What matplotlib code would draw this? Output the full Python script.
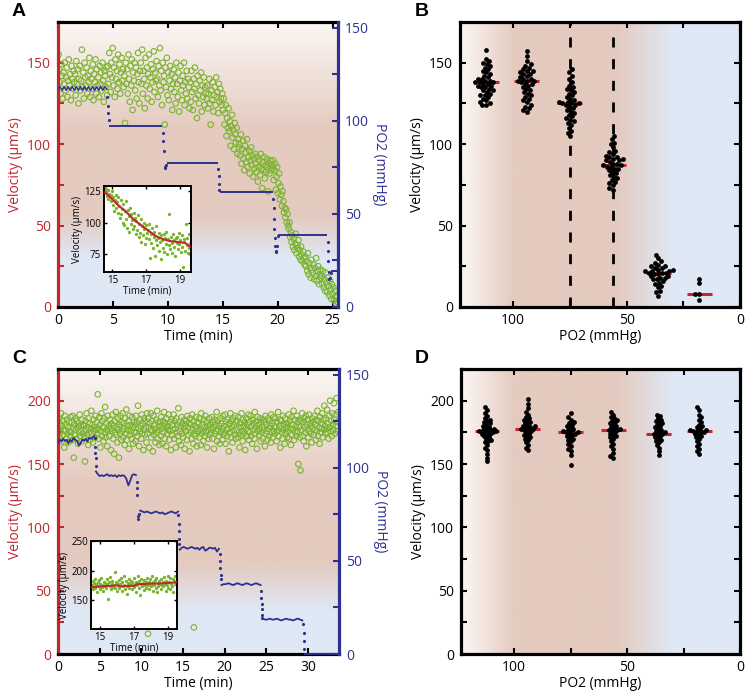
import numpy as np
import matplotlib.pyplot as plt
from matplotlib.colors import LinearSegmentedColormap
from matplotlib.ticker import MultipleLocator

plt.rcParams['font.family'] = ['Open Sans', 'DejaVu Sans']
plt.rcParams['font.size'] = 10

RED = '#c1272d'
NAVY = '#2e3192'
GREEN = '#7ab42f'
BG_WHITE = '#fbf7f4'
BG_PINK = '#e4cabf'
BG_BLUE = '#dfe8f5'

# ---- Panel A: velocity over time (hypoxia steps) ----
vel_a = [
    155, 146, 138, 131, 149, 142, 128, 144, 137, 150, 133, 141, 147, 129, 139, 152, 136, 143, 127, 148, 140, 134, 145, 138,
    143, 130, 151, 137, 146, 125, 140, 148, 133, 139, 158, 135, 144, 128, 150, 141, 136, 147, 131, 142, 138, 153, 129, 145,
    140, 134, 149, 127, 143, 138, 152, 131, 146, 136, 141, 129, 148, 137, 144, 133, 150, 139, 126, 145, 142, 135, 147, 130,
    148, 137, 156, 143, 132, 150, 141, 159, 136, 147, 129, 152, 140, 145, 134, 155, 138, 149, 131, 144, 153, 139, 146, 135,
    142, 113, 150, 137, 146, 131, 155, 140, 126, 148, 136, 152, 121, 144, 139, 150, 133, 147, 128, 143, 156, 138, 125, 145,
    150, 137, 158, 131, 145, 140, 122, 153, 136, 147, 128, 143, 155, 134, 141, 149, 126, 138, 146, 157, 132, 144, 139, 151,
    140, 129, 148, 136, 159, 133, 145, 124, 150, 138, 142, 112, 147, 135, 153, 130, 144, 127, 139, 148, 134, 143, 121, 137,
    146, 132, 141, 125, 150, 137, 129, 144, 120, 139, 148, 133, 127, 142, 136, 150, 124, 138, 131, 145, 128, 140, 135, 122,
    138, 126, 145, 132, 121, 140, 134, 147, 128, 137, 116, 142, 130, 125, 139, 133, 144, 120, 136, 129, 141, 124, 135, 131,
    128, 136, 122, 131, 140, 125, 112, 133, 127, 138, 120, 130, 135, 124, 141, 129, 132, 119, 137, 126, 134, 128, 124, 131,
    121, 128, 112, 119, 124, 105, 116, 110, 122, 108, 114, 99, 111, 118, 104, 109, 97, 113, 106, 101, 110, 94, 103, 98,
    100, 93, 106, 88, 97, 102, 91, 84, 99, 95, 89, 103, 86, 92, 96, 82, 90, 98, 87, 93, 80, 91, 85, 94,
    88, 83, 92, 77, 86, 90, 81, 94, 85, 73, 89, 84, 92, 79, 87, 83, 91, 86, 71, 88, 82, 90, 84, 87,
    85, 90, 78, 84, 88, 72, 80, 86, 70, 76, 82, 66, 74, 69, 62, 71, 65, 58, 61, 55, 60, 52, 57, 50,
    48, 52, 43, 46, 40, 44, 37, 42, 35, 39, 45, 33, 38, 36, 41, 31, 35, 29, 37, 32, 28, 34, 30, 26,
    31, 25, 28, 22, 33, 20, 27, 24, 18, 29, 23, 21, 26, 17, 24, 19, 30, 16, 22, 25, 14, 20, 23, 18,
    19, 14, 22, 12, 17, 10, 21, 15, 9, 18, 13, 7, 16, 11, 5, 14, 8, 12, 4, 10, 6, 2, 7, 3,
]
time_a_range = (0.05, 25.45)

po2_a_first = [117, 118.3, 116.3, 118.3, 116.3, 118.3, 116.3, 118.3, 116.3, 118.3, 116.3, 118.3, 116.3,
               118.3, 116.3, 118.3, 116.3, 118.3, 116.3, 118.3, 116.3, 118.3, 116.3, 118.3, 117]
po2_a_first_range = (0.0, 4.45)
po2_a_lev_start = [4.65, 9.9, 14.75, 20.05, 24.9]
po2_a_lev_end = [9.5, 14.55, 19.6, 24.5, 25.45]
po2_a_lev_val = [97, 77.3, 62, 38.5, 19.5]
po2_a_tr_t = [4.5, 4.53, 4.56, 4.6, 9.55, 9.6, 9.65, 9.72, 9.78, 9.84, 14.6, 14.63, 14.66, 14.7,
              19.62, 19.65, 19.68, 19.71, 19.74, 19.78, 19.82, 19.88, 19.95, 20.0,
              24.55, 24.58, 24.61, 24.64, 24.68, 24.75, 24.82]
po2_a_tr_v = [113, 108, 104, 100.5, 93.5, 89, 84, 75, 74.5, 76, 74, 70.5, 66, 63,
              58, 53, 47.5, 42, 37, 33, 30, 29.5, 33, 38,
              35, 30, 24.5, 19, 15, 15.5, 18]

inset_a_vel = [
    128, 124, 127, 121, 126, 119, 123, 130, 117, 122, 125, 114, 120, 109, 118, 122, 112, 116, 120, 108,
    113, 104, 118, 107, 111, 100, 115, 98, 109, 117, 103, 96, 110, 105, 93, 112, 99, 107, 102, 95,
    108, 97, 104, 91, 101, 94, 106, 89, 99, 92, 103, 85, 97, 90, 100, 95, 83, 98, 88, 92,
    94, 87, 99, 72, 91, 84, 96, 80, 89, 93, 74, 86, 97, 82, 88, 78, 92, 85, 71, 90,
    86, 80, 91, 77, 88, 83, 93, 75, 87, 82, 107, 79, 89, 84, 76, 91, 81, 86, 74, 88,
    84, 89, 79, 92, 83, 86, 77, 90, 81, 65, 87, 85, 78, 99, 82, 88, 76, 91, 80, 84,
]
inset_a_range = (14.55, 19.6)
inset_a_fit_t = [14.55, 14.8, 15.1, 15.4, 15.7, 16.0, 16.3, 16.6, 16.9, 17.2, 17.5, 17.8, 18.1, 18.4, 18.7, 19.0, 19.3, 19.6]
inset_a_fit_v = [124, 121, 117, 113, 110, 106, 102, 99, 96, 93, 90, 88, 86.5, 85.5, 85, 84.5, 84, 81]

# ---- Panel C: control, velocity over time ----
vel_c = [
    178, 186, 171, 182, 175, 190, 168, 180, 184, 173, 177, 163, 188, 176, 181, 170, 185, 174, 179, 167, 183, 176, 172, 187,
    175, 183, 169, 188, 178, 155, 181, 173, 186, 177, 170, 184, 179, 166, 182, 175, 189, 172, 180, 176, 168, 185, 174, 181,
    180, 171, 152, 184, 177, 190, 173, 179, 165, 186, 175, 182, 169, 178, 192, 174, 181, 167, 185, 176, 179, 171, 188, 177,
    183, 174, 205, 178, 170, 187, 181, 163, 176, 190, 172, 184, 179, 168, 186, 175, 195, 171, 182, 177, 164, 188, 176, 180,
    172, 185, 178, 161, 182, 176, 189, 170, 180, 158, 184, 175, 191, 173, 179, 167, 186, 177, 155, 181, 174, 188, 169, 183,
    176, 190, 171, 182, 178, 165, 186, 174, 193, 169, 180, 177, 184, 162, 188, 173, 181, 176, 170, 187, 179, 166, 183, 175,
    181, 168, 188, 175, 183, 172, 196, 178, 164, 185, 176, 180, 170, 189, 174, 182, 161, 186, 177, 173, 184, 179, 167, 190,
    174, 186, 179, 163, 182, 177, 190, 171, 184, 176, 160, 188, 173, 181, 178, 167, 185, 175, 192, 170, 183, 177, 165, 180,
    183, 172, 187, 178, 166, 184, 175, 191, 170, 182, 179, 164, 186, 174, 180, 177, 189, 169, 183, 176, 161, 185, 173, 181,
    177, 189, 170, 184, 178, 163, 186, 175, 181, 172, 194, 168, 183, 176, 180, 165, 187, 174, 182, 171, 178, 185, 162, 180,
    176, 184, 169, 188, 179, 173, 182, 160, 186, 175, 181, 170, 189, 177, 166, 184, 174, 180, 172, 187, 178, 164, 183, 176,
    182, 171, 186, 177, 165, 190, 174, 181, 176, 168, 185, 179, 172, 188, 175, 183, 163, 180, 177, 170, 186, 173, 181, 178,
    175, 187, 170, 183, 179, 162, 185, 174, 181, 176, 191, 168, 184, 177, 172, 180, 166, 186, 175, 182, 178, 169, 188, 173,
    180, 174, 189, 166, 183, 177, 172, 185, 178, 160, 182, 175, 190, 171, 184, 179, 167, 186, 176, 181, 173, 188, 170, 183,
    177, 184, 171, 187, 175, 163, 182, 179, 173, 190, 176, 168, 185, 180, 174, 183, 161, 178, 186, 172, 181, 176, 189, 169,
    183, 175, 188, 172, 180, 166, 185, 177, 182, 170, 191, 174, 179, 184, 162, 187, 176, 181, 173, 178, 186, 168, 183, 175,
    179, 170, 185, 177, 183, 164, 188, 174, 181, 176, 169, 186, 178, 172, 184, 180, 167, 189, 175, 182, 171, 187, 176, 180,
    174, 186, 179, 168, 183, 176, 191, 172, 180, 185, 163, 178, 184, 175, 170, 188, 177, 181, 166, 186, 174, 182, 179, 171,
    182, 176, 189, 170, 184, 178, 165, 187, 173, 181, 177, 192, 169, 185, 175, 180, 172, 188, 176, 183, 150, 179, 185, 171,
    145, 184, 177, 190, 172, 183, 168, 186, 179, 175, 188, 164, 181, 177, 185, 171, 189, 176, 182, 174, 180, 167, 186, 178,
    183, 173, 188, 177, 181, 169, 185, 176, 192, 172, 184, 179, 166, 187, 175, 182, 178, 190, 171, 185, 177, 196, 180, 174,
    186, 178, 193, 175, 182, 170, 188, 179, 200, 176, 184, 172, 190, 181, 177, 198, 185, 174, 189, 180, 202, 183, 176, 191,
]
time_c_range = (0.05, 33.6)
outlier_c_t = [10.8, 16.3]
outlier_c_v = [16, 21]

po2_c_segments = [
    (0.0, 4.35, [113.5, 115, 114, 115.5, 114.5, 115, 113, 115, 114, 116, 115, 114.5, 112, 113, 115, 114.5,
                 115.5, 114, 116, 115.5, 116, 117]),
    (4.55, 9.35, [98, 96.5, 95.5, 96, 95.5, 96, 96.5, 95.5, 96, 95.5, 96, 95, 96, 95.5, 96, 95.5, 94, 90.5,
                  93, 96, 96.5, 96]),
    (9.85, 14.4, [77, 76.5, 76, 76.5, 76, 75.5, 76, 76.5, 76, 75.5, 76, 75, 75.5, 76, 76.5, 76, 75.5, 76.5]),
    (14.6, 19.3, [56, 57, 57.5, 57, 56.5, 57, 57.5, 57, 56.5, 57, 56, 57, 57.5, 55.5, 56, 57, 57, 56.5, 57,
                  55, 56.5]),
    (19.6, 24.3, [37, 37.5, 37.5, 38, 37.5, 37, 37.5, 38, 37.5, 37, 37.5, 38, 37.5, 37, 37.5, 38, 37.5, 37]),
    (24.55, 29.3, [19, 18.5, 18.5, 19, 18.5, 18.5, 19, 18.5, 18, 18.5, 19, 18.5, 18.5, 18, 18.5, 19, 18.5, 18]),
    (29.6, 33.7, [0, 0]),
]
po2_c_tr_t = [4.4, 4.45, 4.47, 4.5, 4.52, 9.45, 9.48, 9.52, 9.58, 9.62, 9.7,
              14.45, 14.48, 14.5, 14.53, 14.56, 19.4, 19.43, 19.46, 19.5, 19.54,
              24.35, 24.38, 24.41, 24.44, 24.47, 24.5, 29.4, 29.45, 29.5, 29.55]
po2_c_tr_v = [116, 111, 108, 105, 101, 92.5, 89, 85.5, 74, 72.5, 75,
              74.5, 70, 66, 62, 59, 53.5, 50, 46, 42.5, 40,
              34, 30, 27, 24, 21, 19.5, 16, 11.5, 7, 2.5]

inset_c_vel = [
    175, 182, 168, 179, 186, 171, 177, 163, 180, 174, 184, 169, 178, 188, 172, 176, 165, 181, 173, 179,
    170, 185, 177, 152, 180, 174, 189, 168, 178, 183, 172, 176, 198, 171, 181, 166, 179, 175, 184, 170,
    177, 187, 165, 180, 173, 190, 176, 169, 182, 174, 160, 179, 185, 171, 177, 183, 168, 180, 175, 187,
    172, 178, 164, 181, 176, 191, 170, 183, 158, 177, 186, 173, 179, 167, 184, 175, 180, 171, 188, 176,
    181, 169, 185, 177, 173, 190, 166, 180, 176, 184, 171, 188, 163, 179, 174, 182, 178, 168, 186, 175,
    180, 173, 189, 177, 165, 183, 176, 191, 171, 181, 168, 187, 178, 174, 185, 164, 182, 177, 190, 179,
]
inset_c_range = (14.5, 19.5)
inset_c_fit_t = [14.5, 15.0, 15.5, 16.0, 16.2, 16.6, 17.0, 17.2, 17.6, 18.0, 18.5, 19.0, 19.5]
inset_c_fit_v = [172, 173, 174, 175, 173, 174, 174, 177, 177, 178, 178, 179, 180]

# ---- Panels B / D: velocity per PO2 step ----
po2_levels = [112, 94, 75, 56, 36, 18]
thresholds_b = [75, 56]

vel_b = [
    [158, 152, 151, 150, 149, 148, 147, 146, 145, 144, 143, 142, 141, 140, 140, 139, 139, 138, 138, 138,
     137, 137, 136, 136, 135, 135, 134, 133, 133, 132, 131, 130, 130, 129, 128, 127, 126, 125, 124, 124],
    [157, 154, 151, 149, 148, 147, 146, 145, 145, 144, 143, 143, 142, 141, 140, 140, 139, 139, 139, 138,
     137, 137, 136, 135, 134, 133, 132, 131, 130, 129, 128, 127, 126, 124, 123, 122, 121, 120],
    [146, 144, 142, 140, 138, 136, 135, 134, 133, 132, 131, 130, 129, 128, 127, 126, 126, 125, 125, 125,
     124, 124, 123, 122, 121, 120, 119, 118, 117, 116, 115, 114, 113, 112, 110, 108, 107, 105],
    [105, 103, 101, 100, 98, 96, 95, 94, 93, 92, 92, 91, 91, 90, 90, 89, 88, 88, 87, 87,
     86, 86, 85, 85, 84, 83, 82, 81, 80, 79, 78, 77, 76, 75, 73, 72],
    [32, 30, 28, 27, 26, 25, 25, 24, 24, 23, 23, 22, 22, 22, 21, 21, 21, 20, 20, 19,
     19, 18, 18, 17, 17, 16, 15, 14, 13, 12, 10, 9, 7],
    [17.5, 15, 8, 8, 4],
]
median_b = [138, 139, 125, 87, 21, 8]

vel_d = [
    [195, 193, 190, 188, 186, 185, 184, 183, 182, 181, 180, 179, 178, 178, 177, 177, 176, 176, 176, 175,
     175, 174, 174, 173, 172, 171, 170, 169, 168, 167, 165, 163, 161, 158, 155, 152],
    [201, 197, 194, 191, 189, 187, 186, 185, 184, 183, 182, 181, 180, 180, 179, 179, 178, 178, 177, 177,
     176, 175, 174, 173, 172, 171, 170, 169, 167, 165, 163, 161],
    [190, 187, 185, 183, 182, 181, 180, 179, 178, 177, 176, 176, 175, 175, 174, 174, 173, 172, 171, 170,
     169, 168, 166, 164, 162, 160, 157, 149],
    [191, 189, 187, 186, 185, 184, 183, 182, 181, 180, 179, 178, 178, 177, 177, 176, 175, 174, 173, 172,
     171, 170, 168, 166, 164, 162, 159, 156, 155],
    [189, 188, 186, 185, 184, 183, 182, 181, 180, 179, 178, 177, 176, 175, 175, 174, 174, 173, 172, 171,
     170, 169, 168, 167, 165, 163, 160, 157],
    [195, 193, 189, 187, 185, 183, 181, 180, 179, 178, 177, 177, 176, 176, 175, 175, 174, 173, 172, 171,
     170, 168, 166, 164, 162, 160, 158],
]
median_d = [176, 178, 175, 177, 174, 176]

W, H = 746, 697
fig = plt.figure(figsize=(W / 100, H / 100), dpi=100)


def px_axes(left, top, right, bottom):
    return fig.add_axes([left / W, 1 - bottom / H, (right - left) / W, (bottom - top) / H])


def add_gradient(ax, stops, vertical):
    cmap = LinearSegmentedColormap.from_list('bg', stops)
    grad = np.linspace(0, 1, 256)
    img = grad[:, None] if vertical else grad[None, :]
    ax.imshow(img, cmap=cmap, aspect='auto', extent=[0, 1, 0, 1], origin='lower',
              transform=ax.transAxes, zorder=0, interpolation='bilinear')


def swarm(vals, px_x, px_y, d):
    # simple beeswarm: returns x offsets (data units) for each value
    order = np.argsort(vals)
    placed = []
    offs = np.zeros(len(vals))
    for i in order:
        y = vals[i] * px_y
        cands = [0.0]
        for (xj, yj) in placed:
            dy = abs(y - yj)
            if dy < d:
                o = np.sqrt(d * d - dy * dy)
                cands += [xj + o, xj - o]
        cands.sort(key=abs)
        for c in cands:
            if all((c - xj) ** 2 + (y - yj) ** 2 >= d * d - 1e-6 for (xj, yj) in placed):
                break
        placed.append((c, y))
        offs[i] = c / px_x
    return offs


def time_panel(ax, vel, trange, ymax, xmax, xticks, stops):
    add_gradient(ax, stops, vertical=True)
    t = np.linspace(trange[0], trange[1], len(vel))
    ax.scatter(t, vel, s=16, facecolors='none', edgecolors=GREEN, linewidths=0.8, zorder=2)
    ax.set_xlim(0, xmax)
    ax.set_ylim(0, ymax)
    ax.set_xticks(xticks)
    ax.yaxis.set_major_locator(MultipleLocator(50))
    ax.yaxis.set_minor_locator(MultipleLocator(25))
    for s in ['top', 'bottom']:
        ax.spines[s].set_linewidth(2.3)
    ax.spines['left'].set_linewidth(2.3)
    ax.spines['left'].set_color(RED)
    ax.spines['right'].set_visible(False)
    ax.tick_params(axis='x', direction='in', top=True, length=4, width=1.5, pad=4)
    ax.tick_params(axis='y', which='both', direction='in', length=4, width=1.5, color=RED,
                   labelcolor=RED, pad=5)
    ax.set_xlabel('Time (min)', labelpad=1)
    ax.set_ylabel('Velocity (µm/s)', color=RED, labelpad=3)

    ax2 = ax.twinx()
    ax2.set_ylim(0, 153)
    ax2.set_xlim(0, xmax)
    ax2.yaxis.set_major_locator(MultipleLocator(50))
    ax2.yaxis.set_minor_locator(MultipleLocator(25))
    for s in ['top', 'bottom', 'left']:
        ax2.spines[s].set_visible(False)
    ax2.spines['right'].set_linewidth(2.3)
    ax2.spines['right'].set_color(NAVY)
    ax2.tick_params(axis='y', which='both', direction='in', length=4, width=1.5, color=NAVY,
                    labelcolor=NAVY, pad=5)
    ax2.set_ylabel('PO2 (mmHg)', color=NAVY, rotation=270, labelpad=13)
    return ax2


def inset(ax_in, vel, trange, fit_t, fit_v, ylim, yticks):
    t = np.linspace(trange[0], trange[1], len(vel))
    ax_in.set_facecolor('white')
    ax_in.plot(t, vel, 'o', ms=2.4, color=GREEN, mec='none', zorder=2)
    ax_in.plot(fit_t, fit_v, color=RED, lw=1.5, zorder=3)
    ax_in.set_xlim(trange[0] - 0.05, trange[1] + 0.05)
    ax_in.set_ylim(*ylim)
    ax_in.set_xticks([15, 17, 19])
    ax_in.set_yticks(yticks)
    for s in ax_in.spines.values():
        s.set_linewidth(1.4)
    ax_in.tick_params(direction='in', top=True, right=True, length=2.5, width=1, labelsize=7, pad=2)
    ax_in.set_xlabel('Time (min)', fontsize=7, labelpad=0)
    ax_in.set_ylabel('Velocity (µm/s)', fontsize=7, labelpad=1)


def po2_panel(ax, groups, medians, ymax, px_y, stops, spacing, thresholds=()):
    add_gradient(ax, stops, vertical=False)
    px_x = 280 / 123.5
    for pos, vals, med in zip(po2_levels, groups, medians):
        offs = swarm(np.array(vals, float), px_x, px_y, spacing)
        ax.hlines(med, pos - 5.5, pos + 5.5, color=RED, lw=2.2, zorder=3)
        ax.scatter(pos + offs, vals, s=12, color='black', zorder=4, linewidths=0)
    for i, th in enumerate(thresholds):
        ax.axvline(th, ymax=1.0 if i == 0 else 0.97, color='black', lw=2.0,
                   ls=(0, (3.6, 4.2)), zorder=2)
    ax.set_xlim(123.5, 0)
    ax.set_ylim(0, ymax)
    ax.xaxis.set_major_locator(MultipleLocator(50))
    ax.xaxis.set_minor_locator(MultipleLocator(25))
    ax.yaxis.set_major_locator(MultipleLocator(50))
    ax.yaxis.set_minor_locator(MultipleLocator(25))
    for s in ax.spines.values():
        s.set_linewidth(2.3)
    ax.tick_params(which='both', direction='in', top=True, right=True, length=4, width=1.5, pad=5)
    ax.tick_params(axis='x', pad=4)
    ax.set_xlabel('PO2 (mmHg)', labelpad=1)
    ax.set_ylabel('Velocity (µm/s)', labelpad=3)


stops_a = [(0.0, BG_BLUE), (0.17, BG_BLUE), (0.32, BG_PINK), (0.62, BG_PINK), (1.0, BG_WHITE)]
stops_c = [(0.0, BG_BLUE), (0.15, BG_BLUE), (0.32, BG_PINK), (0.6, BG_PINK), (1.0, BG_WHITE)]
stops_bd = [(0.0, BG_WHITE), (0.196, BG_PINK), (0.56, BG_PINK), (0.76, BG_BLUE), (1.0, BG_BLUE)]

# ---- A ----
axA = px_axes(58, 22, 338, 307)
axA2 = time_panel(axA, vel_a, time_a_range, 175, 25.5, [0, 5, 10, 15, 20, 25], stops_a)
tA = np.linspace(po2_a_first_range[0], po2_a_first_range[1], len(po2_a_first))
axA2.plot(tA, po2_a_first, color=NAVY, lw=1.0)
axA2.hlines(po2_a_lev_val, po2_a_lev_start, po2_a_lev_end, color=NAVY, lw=1.4)
axA2.plot(po2_a_tr_t, po2_a_tr_v, '.', ms=2.5, color=NAVY)

insA = px_axes(104, 186, 191, 272)
inset(insA, inset_a_vel, inset_a_range, inset_a_fit_t, inset_a_fit_v, (61, 129), [75, 100, 125])

# ---- B ----
axB = px_axes(460, 22, 740, 307)
po2_panel(axB, vel_b, median_b, 175, 285 / 175, stops_bd, 3.9, thresholds_b)

# ---- C ----
axC = px_axes(58, 369, 339, 654)
axC2 = time_panel(axC, vel_c, time_c_range, 225, 33.7, [0, 5, 10, 15, 20, 25, 30], stops_c)
axC.scatter(outlier_c_t, outlier_c_v, s=16, facecolors='none', edgecolors=GREEN, linewidths=0.8, zorder=2)
for t0, t1, vals in po2_c_segments:
    axC2.plot(np.linspace(t0, t1, len(vals)), vals, color=NAVY, lw=1.3, clip_on=False if t0 > 29 else True)
axC2.plot(po2_c_tr_t, po2_c_tr_v, '.', ms=2.5, color=NAVY)

insC = px_axes(91, 541, 177, 629)
inset(insC, inset_c_vel, inset_c_range, inset_c_fit_t, inset_c_fit_v, (101, 250), [150, 200, 250])

# ---- D ----
axD = px_axes(461, 369, 740, 654)
po2_panel(axD, vel_d, median_d, 225, 285 / 225, stops_bd, 3.3)

for lbl, x, y in [('A', 12, 3), ('B', 415, 3), ('C', 12, 350), ('D', 415, 350)]:
    fig.text(x / W, 1 - y / H, lbl, fontsize=14, fontweight='bold', va='top',
             family=['Liberation Sans', 'DejaVu Sans'])

fig.savefig('out.png', dpi=100)
